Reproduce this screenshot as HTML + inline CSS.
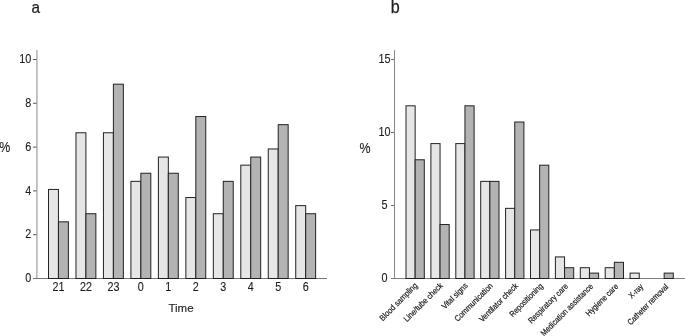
<!DOCTYPE html><html><head><meta charset="utf-8"><style>html,body{margin:0;padding:0;background:#fff;}svg{display:block}text{font-family:"Liberation Sans",sans-serif;fill:#1e1e1e;stroke:#1e1e1e;stroke-width:0.12px}</style></head><body>
<svg width="685" height="336" viewBox="0 0 685 336">
<rect width="685" height="336" fill="#fff"/>
<text transform="translate(31.6,12.8) scale(0.9,1)" style="stroke-width:0.25px" font-size="17">a</text>
<text transform="translate(390.8,12.8) scale(0.95,1.05)" style="stroke-width:0.25px" font-size="17">b</text>
<rect x="36" y="50" width="1" height="228.5" fill="#bdbdbd"/><rect x="37" y="50" width="1" height="228.5" fill="#cdcdcd"/>
<rect x="33" y="278" width="294" height="1" fill="#777"/>
<rect x="48.5" y="189.44" width="9.95" height="89.06" fill="#e6e6e6" stroke="#222" stroke-width="1"/>
<rect x="58.45" y="221.83" width="9.95" height="56.67" fill="#b3b3b3" stroke="#222" stroke-width="1"/>
<text transform="translate(58.45,290.6) scale(0.9,1)" font-size="12" text-anchor="middle">21</text>
<rect x="75.97" y="132.77" width="9.95" height="145.73" fill="#e6e6e6" stroke="#222" stroke-width="1"/>
<rect x="85.92" y="213.73" width="9.95" height="64.77" fill="#b3b3b3" stroke="#222" stroke-width="1"/>
<text transform="translate(85.92,290.6) scale(0.9,1)" font-size="12" text-anchor="middle">22</text>
<rect x="103.44" y="132.77" width="9.95" height="145.73" fill="#e6e6e6" stroke="#222" stroke-width="1"/>
<rect x="113.39" y="84.19" width="9.95" height="194.31" fill="#b3b3b3" stroke="#222" stroke-width="1"/>
<text transform="translate(113.39,290.6) scale(0.9,1)" font-size="12" text-anchor="middle">23</text>
<rect x="130.91" y="181.34" width="9.95" height="97.16" fill="#e6e6e6" stroke="#222" stroke-width="1"/>
<rect x="140.86" y="173.25" width="9.95" height="105.25" fill="#b3b3b3" stroke="#222" stroke-width="1"/>
<text transform="translate(140.86,290.6) scale(0.9,1)" font-size="12" text-anchor="middle">0</text>
<rect x="158.38" y="157.06" width="9.95" height="121.44" fill="#e6e6e6" stroke="#222" stroke-width="1"/>
<rect x="168.33" y="173.25" width="9.95" height="105.25" fill="#b3b3b3" stroke="#222" stroke-width="1"/>
<text transform="translate(168.33,290.6) scale(0.9,1)" font-size="12" text-anchor="middle">1</text>
<rect x="185.85" y="197.54" width="9.95" height="80.96" fill="#e6e6e6" stroke="#222" stroke-width="1"/>
<rect x="195.8" y="116.57" width="9.95" height="161.93" fill="#b3b3b3" stroke="#222" stroke-width="1"/>
<text transform="translate(195.8,290.6) scale(0.9,1)" font-size="12" text-anchor="middle">2</text>
<rect x="213.32" y="213.73" width="9.95" height="64.77" fill="#e6e6e6" stroke="#222" stroke-width="1"/>
<rect x="223.27" y="181.34" width="9.95" height="97.16" fill="#b3b3b3" stroke="#222" stroke-width="1"/>
<text transform="translate(223.27,290.6) scale(0.9,1)" font-size="12" text-anchor="middle">3</text>
<rect x="240.79" y="165.15" width="9.95" height="113.35" fill="#e6e6e6" stroke="#222" stroke-width="1"/>
<rect x="250.74" y="157.06" width="9.95" height="121.44" fill="#b3b3b3" stroke="#222" stroke-width="1"/>
<text transform="translate(250.74,290.6) scale(0.9,1)" font-size="12" text-anchor="middle">4</text>
<rect x="268.26" y="148.96" width="9.95" height="129.54" fill="#e6e6e6" stroke="#222" stroke-width="1"/>
<rect x="278.21" y="124.67" width="9.95" height="153.83" fill="#b3b3b3" stroke="#222" stroke-width="1"/>
<text transform="translate(278.21,290.6) scale(0.9,1)" font-size="12" text-anchor="middle">5</text>
<rect x="295.73" y="205.63" width="9.95" height="72.87" fill="#e6e6e6" stroke="#222" stroke-width="1"/>
<rect x="305.68" y="213.73" width="9.95" height="64.77" fill="#b3b3b3" stroke="#222" stroke-width="1"/>
<text transform="translate(305.68,290.6) scale(0.9,1)" font-size="12" text-anchor="middle">6</text>
<text transform="translate(31.3,282.1) scale(0.9,1)" font-size="12" text-anchor="end">0</text>
<rect x="33" y="234.2" width="3.6" height="1" fill="#5a5a5a"/>
<text transform="translate(31.3,238.3) scale(0.9,1)" font-size="12" text-anchor="end">2</text>
<rect x="33" y="190.4" width="3.6" height="1" fill="#5a5a5a"/>
<text transform="translate(31.3,194.5) scale(0.9,1)" font-size="12" text-anchor="end">4</text>
<rect x="33" y="146.6" width="3.6" height="1" fill="#5a5a5a"/>
<text transform="translate(31.3,150.7) scale(0.9,1)" font-size="12" text-anchor="end">6</text>
<rect x="33" y="102.8" width="3.6" height="1" fill="#5a5a5a"/>
<text transform="translate(31.3,106.9) scale(0.9,1)" font-size="12" text-anchor="end">8</text>
<rect x="33" y="59" width="3.6" height="1" fill="#5a5a5a"/>
<text transform="translate(31.3,63.1) scale(0.9,1)" font-size="12" text-anchor="end">10</text>
<text transform="translate(-0.7,152) scale(0.92,1.08)" font-size="13.5">%</text>
<text x="181" y="312.2" font-size="11.5" text-anchor="middle">Time</text>
<rect x="394" y="50" width="1" height="228.5" fill="#888"/>
<rect x="391" y="278" width="294" height="1" fill="#808080"/>
<rect x="406" y="105.82" width="9.15" height="172.68" fill="#e6e6e6" stroke="#222" stroke-width="1"/>
<rect x="415.15" y="159.78" width="9.15" height="118.72" fill="#b3b3b3" stroke="#222" stroke-width="1"/>
<text transform="translate(418.15,286) rotate(-45) scale(0.885,1)" style="stroke-width:0.2px;fill:#1a1a1a;stroke:#1a1a1a" font-size="8.3" text-anchor="end">Blood sampling</text>
<rect x="430.9" y="143.59" width="9.15" height="134.91" fill="#e6e6e6" stroke="#222" stroke-width="1"/>
<rect x="440.05" y="224.54" width="9.15" height="53.96" fill="#b3b3b3" stroke="#222" stroke-width="1"/>
<text transform="translate(443.22,286.13) rotate(-45) scale(0.881,1)" style="stroke-width:0.2px;fill:#1a1a1a;stroke:#1a1a1a" font-size="8.3" text-anchor="end">Line/tube check</text>
<rect x="455.8" y="143.59" width="9.15" height="134.91" fill="#e6e6e6" stroke="#222" stroke-width="1"/>
<rect x="464.95" y="105.82" width="9.15" height="172.68" fill="#b3b3b3" stroke="#222" stroke-width="1"/>
<text transform="translate(468.29,286.26) rotate(-45) scale(0.878,1)" style="stroke-width:0.2px;fill:#1a1a1a;stroke:#1a1a1a" font-size="8.3" text-anchor="end">Vital signs</text>
<rect x="480.7" y="181.37" width="9.15" height="97.13" fill="#e6e6e6" stroke="#222" stroke-width="1"/>
<rect x="489.85" y="181.37" width="9.15" height="97.13" fill="#b3b3b3" stroke="#222" stroke-width="1"/>
<text transform="translate(493.36,286.39) rotate(-45) scale(0.874,1)" style="stroke-width:0.2px;fill:#1a1a1a;stroke:#1a1a1a" font-size="8.3" text-anchor="end">Communication</text>
<rect x="505.6" y="208.35" width="9.15" height="70.15" fill="#e6e6e6" stroke="#222" stroke-width="1"/>
<rect x="514.75" y="122.01" width="9.15" height="156.49" fill="#b3b3b3" stroke="#222" stroke-width="1"/>
<text transform="translate(518.43,286.52) rotate(-45) scale(0.871,1)" style="stroke-width:0.2px;fill:#1a1a1a;stroke:#1a1a1a" font-size="8.3" text-anchor="end">Ventilator check</text>
<rect x="530.5" y="229.93" width="9.15" height="48.57" fill="#e6e6e6" stroke="#222" stroke-width="1"/>
<rect x="539.65" y="165.18" width="9.15" height="113.32" fill="#b3b3b3" stroke="#222" stroke-width="1"/>
<text transform="translate(543.5,286.65) rotate(-45) scale(0.867,1)" style="stroke-width:0.2px;fill:#1a1a1a;stroke:#1a1a1a" font-size="8.3" text-anchor="end">Repositioning</text>
<rect x="555.4" y="256.91" width="9.15" height="21.59" fill="#e6e6e6" stroke="#222" stroke-width="1"/>
<rect x="564.55" y="267.71" width="9.15" height="10.79" fill="#b3b3b3" stroke="#222" stroke-width="1"/>
<text transform="translate(568.57,286.78) rotate(-45) scale(0.864,1)" style="stroke-width:0.2px;fill:#1a1a1a;stroke:#1a1a1a" font-size="8.3" text-anchor="end">Respiratory care</text>
<rect x="580.3" y="267.71" width="9.15" height="10.79" fill="#e6e6e6" stroke="#222" stroke-width="1"/>
<rect x="589.45" y="273.1" width="9.15" height="5.4" fill="#b3b3b3" stroke="#222" stroke-width="1"/>
<text transform="translate(593.64,286.91) rotate(-45) scale(0.860,1)" style="stroke-width:0.2px;fill:#1a1a1a;stroke:#1a1a1a" font-size="8.3" text-anchor="end">Medication assistance</text>
<rect x="605.2" y="267.71" width="9.15" height="10.79" fill="#e6e6e6" stroke="#222" stroke-width="1"/>
<rect x="614.35" y="262.31" width="9.15" height="16.19" fill="#b3b3b3" stroke="#222" stroke-width="1"/>
<text transform="translate(618.71,287.04) rotate(-45) scale(0.857,1)" style="stroke-width:0.2px;fill:#1a1a1a;stroke:#1a1a1a" font-size="8.3" text-anchor="end">Hygiene care</text>
<rect x="630.1" y="273.1" width="9.15" height="5.4" fill="#e6e6e6" stroke="#222" stroke-width="1"/>
<text transform="translate(643.78,287.17) rotate(-45) scale(0.853,1)" style="stroke-width:0.2px;fill:#1a1a1a;stroke:#1a1a1a" font-size="8.3" text-anchor="end">X-ray</text>
<rect x="664.15" y="273.1" width="9.15" height="5.4" fill="#b3b3b3" stroke="#222" stroke-width="1"/>
<text transform="translate(668.85,287.3) rotate(-45) scale(0.850,1)" style="stroke-width:0.2px;fill:#1a1a1a;stroke:#1a1a1a" font-size="8.3" text-anchor="end">Catheter removal</text>
<text transform="translate(384.4,282.4) scale(0.9,1)" font-size="12" text-anchor="middle">0</text>
<rect x="391" y="205" width="3" height="1" fill="#6a6a6a"/>
<text transform="translate(384.4,209.4) scale(0.9,1)" font-size="12" text-anchor="middle">5</text>
<rect x="391" y="132" width="3" height="1" fill="#6a6a6a"/>
<text transform="translate(384.4,136.4) scale(0.9,1)" font-size="12" text-anchor="middle">10</text>
<rect x="391" y="59" width="3" height="1" fill="#6a6a6a"/>
<text transform="translate(384.4,63.4) scale(0.9,1)" font-size="12" text-anchor="middle">15</text>
<text transform="translate(359.6,152.8) scale(0.92,1.06)" font-size="13.5">%</text>
</svg></body></html>
